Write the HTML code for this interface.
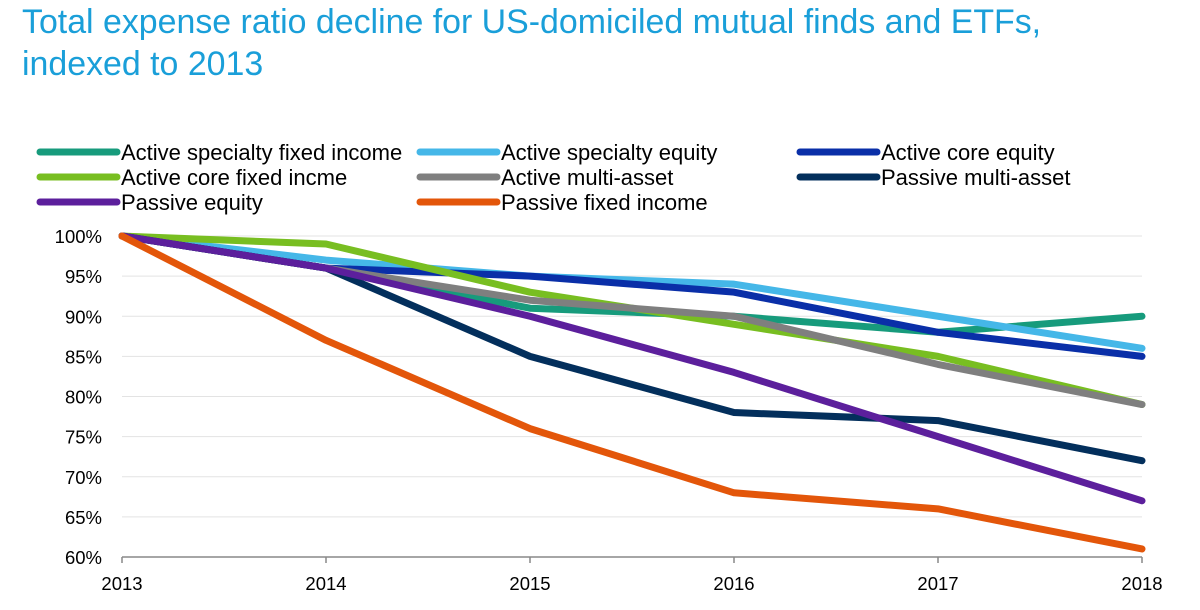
<!DOCTYPE html>
<html><head><meta charset="utf-8"><style>
body{margin:0;background:#fff;font-family:"Liberation Sans",Arial,sans-serif;}
#wrap{position:relative;width:1200px;height:610px;overflow:hidden;}
h1{position:absolute;left:22px;top:1px;margin:0;font-weight:normal;font-size:33.9px;line-height:42px;color:#1a9fd9;}
</style></head><body>
<div id="wrap">
<h1>Total expense ratio decline for US-domiciled mutual finds and ETFs,<br>indexed to 2013</h1>
<svg id="chart" width="1200" height="610" style="position:absolute;left:0;top:0"></svg>
</div>
<script>
const years = ["2013","2014","2015","2016","2017","2018"];
const yTicks = [60,65,70,75,80,85,90,95,100];
const seriesNames = ["Active specialty fixed income","Active specialty equity","Active core equity","Active core fixed incme","Active multi-asset","Passive multi-asset","Passive equity","Passive fixed income"];
const activeSpecFixed = [100,96,91,90,88,90];
const activeSpecEquity = [100,97,95,94,90,86];
const activeCoreEquity = [100,96,95,93,88,85];
const activeCoreFixed = [100,99,93,89,85,79];
const activeMulti = [100,96,92,90,84,79];
const passiveMulti = [100,96,85,78,77,72];
const passiveEquity = [100,96,90,83,75,67];
const passiveFixed = [100,87,76,68,66,61];
const seriesValues = [activeSpecFixed,activeSpecEquity,activeCoreEquity,activeCoreFixed,activeMulti,passiveMulti,passiveEquity,passiveFixed];
const colors = ["#179b7c","#45b7e8","#0a2fa8","#78be21","#7f7f7f","#032f5c","#5c1f9c","#e3560a"];
const NS="http://www.w3.org/2000/svg";
const svg=document.getElementById('chart');
const x0=122,x1=1142,yTop=236,yBot=557;
const xs=i=>x0+(x1-x0)*i/(years.length-1);
const ys=v=>yBot-(v-60)/(100-60)*(yBot-yTop);
function mk(t,a){const e=document.createElementNS(NS,t);for(const k in a)e.setAttribute(k,a[k]);svg.appendChild(e);return e;}
yTicks.forEach(v=>{
  if(v>60){const g=mk('line',{x1:x0,x2:x1,y1:ys(v),y2:ys(v),stroke:'#e3e3e3','stroke-width':1});
  
  }
  const t=mk('text',{x:102,y:ys(v)+7,'text-anchor':'end','font-size':18.5,fill:'#000'});
  t.textContent=v+'%';
  
  
});
const ax=mk('line',{x1:x0,x2:x1,y1:yBot,y2:yBot,stroke:'#888','stroke-width':1.5});


years.forEach((y,i)=>{
  const tk=mk('line',{x1:xs(i),x2:xs(i),y1:yBot,y2:yBot+6,stroke:'#888','stroke-width':1.5});
  
  
  const t=mk('text',{x:xs(i),y:yBot+33,'text-anchor':'middle','font-size':18.5,fill:'#000'});
  t.textContent=y;
  
  
});
seriesValues.forEach((vals,s)=>{
  const p=mk('polyline',{points:vals.map((v,i)=>xs(i)+','+ys(v)).join(' '),fill:'none',stroke:colors[s],'stroke-width':7,'stroke-linejoin':'round','stroke-linecap':'round'});
  
  
});
seriesNames.forEach((n,s)=>{
  const col=s%3,row=Math.floor(s/3);
  const lx=40+col*380,ly=152+row*25;
  const l=mk('line',{x1:lx,x2:lx+77,y1:ly,y2:ly,stroke:colors[s],'stroke-width':7,'stroke-linecap':'round'});
  
  
  const t=mk('text',{x:lx+81,y:ly+8,'font-size':22,fill:'#000'});
  t.textContent=n;
  
  
});
</script>
</body></html>
